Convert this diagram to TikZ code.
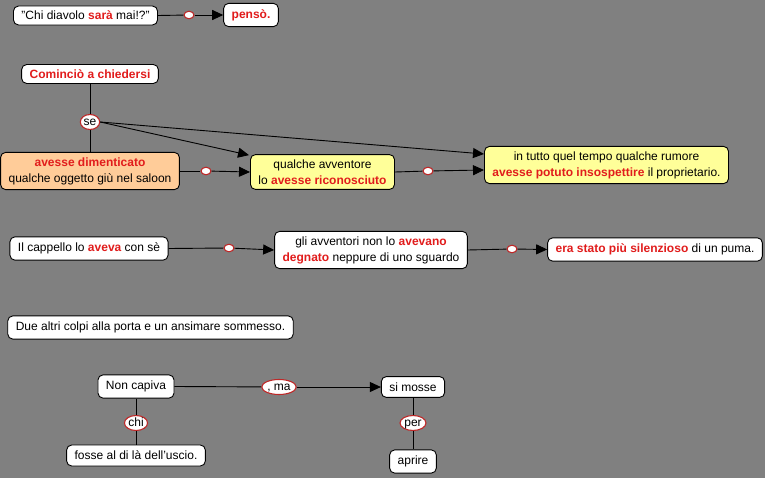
\documentclass[tikz,border=0pt]{standalone}
\usepackage{fontspec}
\setmainfont{Liberation Sans}
\usetikzlibrary{arrows.meta,shapes.geometric}
\definecolor{bg}{RGB}{128,128,128}
\definecolor{rtext}{RGB}{225,28,28}
\definecolor{ered}{RGB}{190,40,40}
\definecolor{orangefill}{RGB}{255,204,153}
\definecolor{yellowfill}{RGB}{255,255,153}
\newcommand{\rb}[1]{\textcolor{rtext}{\bfseries #1}}
\tikzset{
  box/.style={draw=black, line width=0.9pt, rounded corners=5pt, fill=white, align=center,
    inner xsep=8pt, inner ysep=5pt, font=\fontsize{12}{16}\selectfont},
  ybox/.style={box, fill=yellowfill},
  obox/.style={box, fill=orangefill},
  lbl/.style={ellipse, draw=ered, line width=1.1pt, fill=white, inner xsep=0.5pt, inner ysep=0pt,
    text height=8.5pt, text depth=2pt, minimum height=15pt, font=\fontsize{12}{12}\selectfont},
  tiny/.style={ellipse, draw=ered, line width=1.1pt, fill=white, minimum width=10pt, minimum height=7.5pt, inner sep=0pt},
  link/.style={line width=0.9pt, draw=black},
  arr/.style={link, -{Triangle[length=11pt,width=10pt]}},
}
\begin{document}
\begin{tikzpicture}[x=1pt,y=-1pt]
\fill[bg] (0,0) rectangle (765,478);
\useasboundingbox (0,0) rectangle (765,478);

% row 1
\node[box] (chi) at (85.5,15.5) {"Chi diavolo \rb{sarà} mai!?"};
\node[box, inner ysep=6pt] (pen) at (251,15) {\rb{pensò.}};
\node[tiny] (t1) at (189,15) {};
\draw[link] (chi.east) -- (t1);
\draw[arr] (t1) -- (pen.west);

% row 2
\node[box] (com) at (90,74) {\rb{Cominciò a chiedersi}};
\node[lbl] (se) at (90,122) {se};
\node[obox, minimum width=178pt] (ave) at (90,171) {\rb{avesse dimenticato}\\qualche oggetto giù nel saloon};
\node[ybox] (qua) at (322.5,172) {qualche avventore\\lo \rb{avesse riconosciuto}};
\node[ybox] (tut) at (606.5,165) {in tutto quel tempo qualche rumore\\\rb{avesse potuto insospettire} il proprietario.};
\node[tiny] (t2) at (206,171) {};
\node[tiny] (t3) at (428,171) {};
\draw[link] (com) -- (se);
\draw[link] (se) -- (ave);
\draw[arr] (se.east) -- ([xshift=-1pt,yshift=-1pt]qua.north west);
\draw[arr] (se.east) -- ([yshift=11pt]tut.west);
\draw[link] (ave.east) -- (t2);
\draw[arr] (t2) -- (qua.west);
\draw[link] (qua.east) -- (t3);
\draw[arr] (t3) -- ([yshift=-5pt]tut.west);

% row 3
\node[box, inner ysep=6pt] (cap) at (89,248.5) {Il cappello lo \rb{aveva} con sè};
\node[box] (gli) at (371,250) {gli avventori non lo \rb{avevano}\\\rb{degnato} neppure di uno sguardo};
\node[box, inner ysep=6pt] (era) at (655,249.5) {\rb{era stato più silenzioso} di un puma.};
\node[tiny] (t4) at (229,248) {};
\node[tiny] (t5) at (512,249) {};
\draw[link] (cap.east) -- (t4);
\draw[arr] (t4) -- (gli.west);
\draw[link] (gli.east) -- (t5);
\draw[arr] (t5) -- (era.west);

% row 4
\node[box, inner ysep=6pt] (due) at (150.5,327.5) {Due altri colpi alla porta e un ansimare sommesso.};

% row 5
\node[box, inner ysep=6pt] (non) at (136,386.5) {Non capiva};
\node[box, inner ysep=6pt] (sim) at (413,387) {si mosse};
\node[lbl] (ma) at (279,387) {, ma};
\node[lbl] (chil) at (136,423) {chi};
\node[box, inner ysep=6pt] (fos) at (136,455.5) {fosse al di là dell{\char"27}uscio.};
\node[lbl] (per) at (413,423) {per};
\node[box, inner ysep=6pt] (apr) at (413,461.5) {aprire};
\draw[link] (non.east) -- (ma);
\draw[arr] (ma) -- (sim.west);
\draw[link] (non) -- (chil);
\draw[link] (chil) -- (fos);
\draw[link] (sim) -- (per);
\draw[link] (per) -- (apr);
\end{tikzpicture}
\end{document}
